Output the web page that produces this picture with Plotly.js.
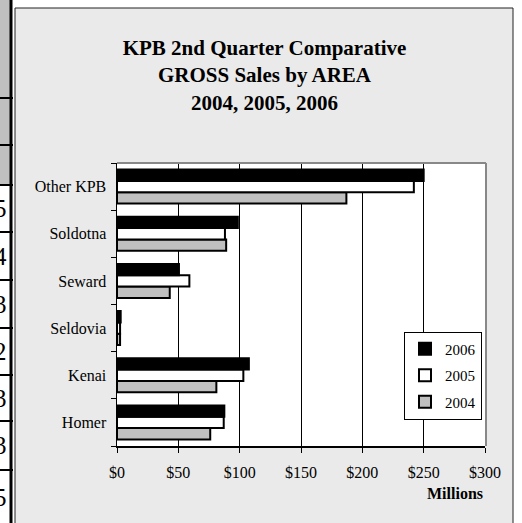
<!DOCTYPE html>
<html><head><meta charset="utf-8">
<script src="https://cdn.plot.ly/plotly-3.0.1.min.js"></script>
<style>html,body{margin:0;padding:0;background:#fff;}#chart{width:522px;height:523px;}</style>
</head><body><div id="chart"></div>
<script>
// ---- data ----
const areas = ["Homer", "Kenai", "Seldovia", "Seward", "Soldotna", "Other KPB"];
const sales2004 = [76, 81, 2.5, 43, 89, 187];
const sales2005 = [87, 103, 2.5, 59, 88, 242];
const sales2006 = [87.5, 107.5, 3, 50.5, 98.5, 250];
const years = ["2004", "2005", "2006"];
const xTicks = [0, 50, 100, 150, 200, 250, 300];
const tableDigits = ["5", "4", "3", "2", "3", "3", "5"];

// ---- geometry helpers (pixel -> paper) ----
const W = 522, H = 523, L = 117, R = 37, T = 163, B = 77;
const PW = W - L - R, PH = H - T - B;
const xp = px => (px - L) / PW;
const yp = py => (H - B - py) / PH;

const serif = "Liberation Serif, Times New Roman, serif";
const barLine = {color: "#000", width: 2};

const traces = [
  {name: years[0], x: sales2004, legendrank: 3, marker: {color: "#C0C0C0", line: barLine}},
  {name: years[1], x: sales2005, legendrank: 2, marker: {color: "#FFFFFF", line: barLine}},
  {name: years[2], x: sales2006, legendrank: 1, marker: {color: "#000000", line: barLine}}
].map(t => Object.assign(t, {type: "bar", orientation: "h", y: areas, legendgroup: t.name, hoverinfo: "x+y+name"}));

const shapes = [];
// chart area background + frame
shapes.push({type: "rect", xref: "paper", yref: "paper", layer: "below",
  x0: xp(15), x1: xp(513), y0: yp(8), y1: yp(540),
  fillcolor: "#EAEAEA", line: {color: "#222", width: 1}});
// plot area white
shapes.push({type: "rect", xref: "paper", yref: "paper", layer: "below",
  x0: 0, x1: 1, y0: 0, y1: 1, fillcolor: "#FFFFFF", line: {width: 0}});
// plot area gray border (top/right)
shapes.push({type: "line", xref: "paper", yref: "paper", layer: "above",
  x0: 0, x1: xp(486), y0: yp(163), y1: yp(163), line: {color: "#888", width: 2}});
shapes.push({type: "line", xref: "paper", yref: "paper", layer: "above",
  x0: xp(486), x1: xp(486), y0: yp(163), y1: 0, line: {color: "#888", width: 2}});
// spreadsheet strip on the left
shapes.push({type: "rect", xref: "paper", yref: "paper", layer: "below",
  x0: xp(-2), x1: xp(11), y0: yp(-2), y1: yp(185), fillcolor: "#C0C0C0", line: {width: 0}});
shapes.push({type: "line", xref: "paper", yref: "paper", layer: "below",
  x0: xp(11), x1: xp(11), y0: yp(-2), y1: yp(530), line: {color: "#000", width: 3}});
[98, 145, 185, 232, 280, 328, 375, 421, 470].forEach(y => shapes.push({
  type: "line", xref: "paper", yref: "paper", layer: "below",
  x0: xp(-2), x1: xp(13), y0: yp(y), y1: yp(y), line: {color: "#000", width: 2}}));

const annotations = [
  {text: "<b>Millions</b>", xref: "paper", yref: "paper", x: xp(455), y: yp(493),
   xanchor: "center", yanchor: "middle", showarrow: false, font: {family: serif, size: 16, color: "#000"}}
];
const cellCenters = [208.5, 256, 304, 351.5, 398, 445.5, 497];
tableDigits.forEach((d, i) => annotations.push({
  text: d, xref: "paper", yref: "paper", x: xp(8.5), y: yp(cellCenters[i]),
  xanchor: "right", yanchor: "middle", showarrow: false,
  font: {family: serif, size: 25, color: "#000"}}));

const layout = {
  width: W, height: H,
  margin: {l: L, r: R, t: T, b: B, pad: 0},
  paper_bgcolor: "#FFFFFF", plot_bgcolor: "#FFFFFF",
  font: {family: serif, color: "#000", size: 16},
  title: {text: "<b>KPB 2nd Quarter Comparative<br>GROSS Sales by AREA<br>2004, 2005, 2006</b>",
    font: {family: serif, size: 21, color: "#000"},
    xref: "container", x: 264.5 / W, xanchor: "center",
    yref: "container", y: 1 - 55 / H, yanchor: "top"},
  barmode: "group", bargap: 0.28, bargroupgap: 0,
  xaxis: {range: [0, 300], tickvals: xTicks, ticktext: xTicks.map(v => "$" + v),
    showgrid: true, gridcolor: "#000", gridwidth: 1,
    showline: true, linecolor: "#000", linewidth: 1.5,
    ticks: "outside", ticklen: 5, tickcolor: "#000", tickwidth: 1,
    ticklabelstandoff: 6, zeroline: false, fixedrange: true,
    tickfont: {family: serif, size: 16, color: "#000"}},
  yaxis: {type: "category", categoryorder: "array", categoryarray: areas,
    range: [-0.5, 5.5], showgrid: false,
    showline: true, linecolor: "#000", linewidth: 1.5,
    ticks: "outside", ticklen: 5, tickcolor: "#000", tickwidth: 1, tickson: "boundaries",
    ticklabelstandoff: 6, zeroline: false, fixedrange: true,
    tickfont: {family: serif, size: 16, color: "#000"}},
  showlegend: true,
  legend: {x: xp(404), y: yp(331.5), xanchor: "left", yanchor: "top",
    xref: "paper", yref: "paper",
    bgcolor: "#FFFFFF", bordercolor: "#000", borderwidth: 1,
    traceorder: "grouped", tracegroupgap: 4, itemwidth: 30,
    font: {family: serif, size: 15, color: "#000"}},
  shapes: shapes,
  annotations: annotations
};

Plotly.newPlot("chart", traces, layout, {displayModeBar: false, staticPlot: true});
</script></body></html>
